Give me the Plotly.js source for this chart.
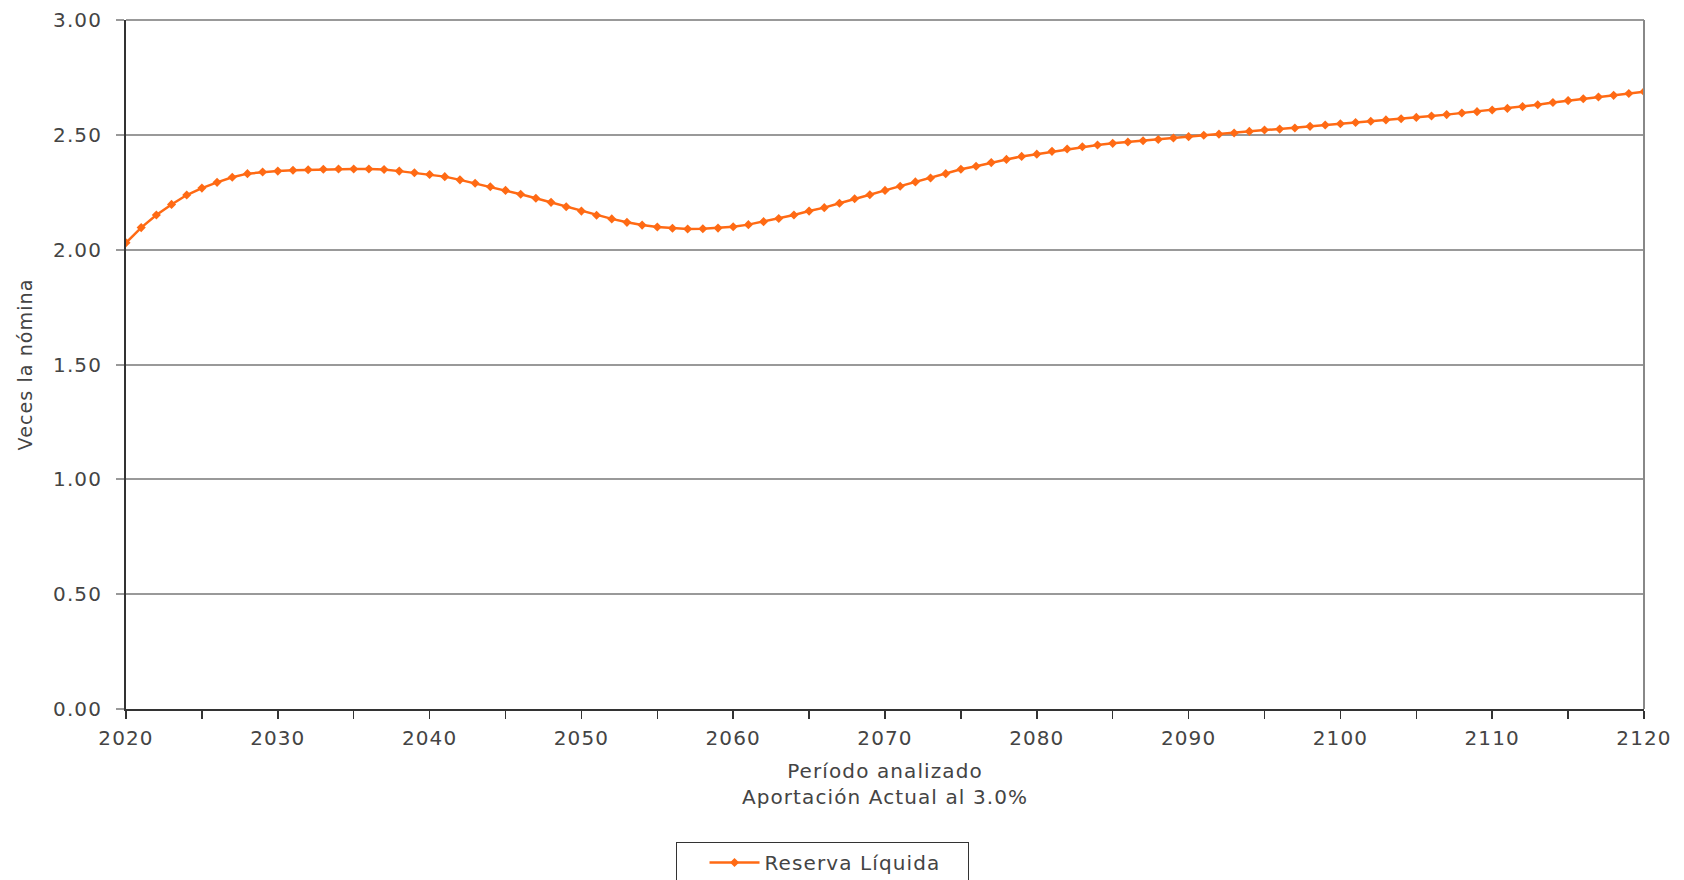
<!DOCTYPE html>
<html>
<head>
<meta charset="utf-8">
<script src="https://cdn.plot.ly/plotly-3.0.1.min.js"></script>
<style>
html,body{margin:0;padding:0;background:#fff;}
#chart{width:1684px;height:880px;}
#chart svg text{letter-spacing:1.1px;}
</style>
</head>
<body>
<div id="chart"></div>
<script>
const years = [];
for (let y = 2020; y <= 2120; y++) years.push(y);

const reservaLiquida = [
  2.030, 2.096, 2.151, 2.197, 2.238, 2.268, 2.293, 2.315, 2.331, 2.338,
  2.342, 2.346, 2.348, 2.350, 2.351, 2.351, 2.351, 2.349, 2.342, 2.335,
  2.327, 2.318, 2.304, 2.289, 2.274, 2.258, 2.241, 2.224, 2.206, 2.187,
  2.168, 2.150, 2.134, 2.119, 2.107, 2.099, 2.093, 2.090, 2.091, 2.094,
  2.100, 2.109, 2.122, 2.136, 2.151, 2.168, 2.183, 2.202, 2.222, 2.239,
  2.258, 2.276, 2.295, 2.312, 2.331, 2.350, 2.363, 2.379, 2.393, 2.406,
  2.416, 2.428, 2.438, 2.448, 2.456, 2.463, 2.469, 2.474, 2.480, 2.486,
  2.492, 2.498, 2.503, 2.508, 2.515, 2.521, 2.525, 2.530, 2.537, 2.543,
  2.548, 2.554, 2.559, 2.565, 2.570, 2.576, 2.582, 2.588, 2.595, 2.601,
  2.608, 2.615, 2.623, 2.631, 2.641, 2.649, 2.657, 2.665, 2.672, 2.680,
  2.688
];

const seriesName = "Reserva Líquida";
const yTitle = "Veces la nómina";
const xTitleLines = ["Período analizado", "Aportación Actual al 3.0%"];
const yTickVals = [0, 0.5, 1, 1.5, 2, 2.5, 3];
const yTickText = ["0.00", "0.50", "1.00", "1.50", "2.00", "2.50", "3.00"];
const xTickVals = [2020, 2030, 2040, 2050, 2060, 2070, 2080, 2090, 2100, 2110, 2120];
const xMinorVals = [2025, 2035, 2045, 2055, 2065, 2075, 2085, 2095, 2105, 2115];

const FONT = "DejaVu Sans, Arial, sans-serif";
const TXT = "#444444";
const ORANGE = "#FF6A14";

const trace = {
  x: years,
  y: reservaLiquida,
  type: "scatter",
  mode: "lines+markers",
  name: seriesName,
  line: {color: ORANGE, width: 2.5},
  marker: {color: ORANGE, symbol: "diamond", size: 7},
  showlegend: true
};

const layout = {
  width: 1684,
  height: 880,
  margin: {l: 126, r: 40, t: 20, b: 171, autoexpand: false},
  paper_bgcolor: "#ffffff",
  plot_bgcolor: "#ffffff",
  font: {family: FONT, size: 20, color: TXT},
  xaxis: {
    range: [2020, 2120],
    tickvals: xTickVals,
    ticktext: xTickVals.map(String),
    ticks: "outside",
    ticklen: 8,
    tickwidth: 1.5,
    tickcolor: "#333",
    ticklabelstandoff: 2,
    minor: {tickvals: xMinorVals, ticks: "outside", ticklen: 8, tickwidth: 1.5, tickcolor: "#333"},
    showgrid: false,
    zeroline: false,
    showline: true,
    linecolor: "#333",
    linewidth: 2,
    tickfont: {family: FONT, size: 20, color: TXT},
    title: {text: xTitleLines.join("<br>"), font: {family: FONT, size: 20, color: TXT}, standoff: 15},
    automargin: false
  },
  yaxis: {
    range: [0, 3],
    tickvals: yTickVals,
    ticktext: yTickText,
    ticks: "outside",
    ticklen: 8,
    tickwidth: 2,
    tickcolor: "#999",
    ticklabelstandoff: 10,
    showgrid: true,
    gridcolor: "#999",
    gridwidth: 2,
    zeroline: false,
    showline: true,
    linecolor: "#333",
    linewidth: 2,
    tickfont: {family: FONT, size: 20, color: TXT},
    title: {text: yTitle, font: {family: FONT, size: 19, color: TXT}, standoff: 20},
    automargin: false
  },
  shapes: [
    {type: "line", xref: "paper", yref: "paper", x0: 0, x1: 1, y0: 1, y1: 1, line: {color: "#999", width: 2}},
    {type: "line", xref: "paper", yref: "paper", x0: 1, x1: 1, y0: 0, y1: 1, line: {color: "#888", width: 2}}
  ],
  showlegend: true,
  legend: {
    orientation: "h",
    x: 0.362,
    xanchor: "left",
    y: -0.193,
    yanchor: "top",
    bordercolor: "#333",
    borderwidth: 1,
    bgcolor: "#fff",
    indentation: 28,
    entrywidth: 198,
    itemwidth: 50,
    font: {family: FONT, size: 20, color: TXT}
  }
};

Plotly.newPlot("chart", [trace], layout, {displayModeBar: false, staticPlot: true});
</script>
</body>
</html>
